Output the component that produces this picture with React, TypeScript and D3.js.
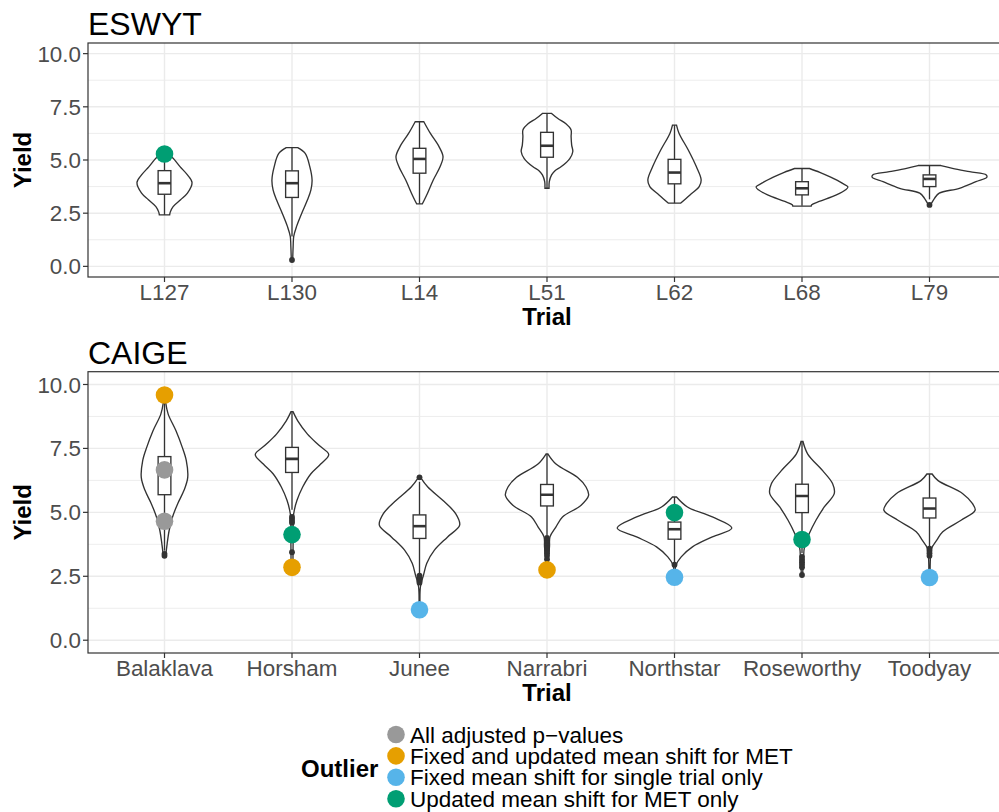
import React from "react";
import * as d3 from "d3";

// ---------- DATA ----------
const eswytTrials = ["L127", "L130", "L14", "L51", "L62", "L68", "L79"];
const caigeTrials = ["Balaklava", "Horsham", "Junee", "Narrabri", "Northstar", "Roseworthy", "Toodyay"];

const yTicks = [0, 2.5, 5, 7.5, 10];
const yMinorTicks = [1.25, 3.75, 6.25, 8.75];

// box statistics
const eswytQ1 = [3.39, 3.24, 4.38, 5.13, 3.88, 3.36, 3.75];
const eswytMedian = [3.91, 3.91, 5.05, 5.67, 4.41, 3.67, 4.11];
const eswytQ3 = [4.5, 4.49, 5.55, 6.3, 5.03, 3.98, 4.3];
const eswytWhiskerLow = [2.42, 1.4, 2.94, 3.67, 2.97, 2.85, 3.15];
const eswytWhiskerHigh = [5.28, 5.58, 6.8, 7.19, 6.64, 4.6, 4.74];

const caigeQ1 = [5.69, 6.56, 3.98, 5.25, 3.95, 4.99, 4.78];
const caigeMedian = [6.6, 7.09, 4.46, 5.69, 4.34, 5.64, 5.15];
const caigeQ3 = [7.18, 7.54, 4.9, 6.09, 4.62, 6.1, 5.56];
const caigeWhiskerLow = [3.5, 5.1, 2.6, 4.1, 3.0, 3.4, 3.65];
const caigeWhiskerHigh = [9.3, 8.94, 6.2, 7.28, 5.6, 7.77, 6.5];

// boxplot outliers (black dots)
const eswytBoxOutliers = [[], [0.3], [], [], [], [], [2.89]];
const caigeBoxOutliers = [
  [3.3, 3.38, 9.59],
  [4.82, 4.74, 4.66, 4.59, 4.13, 3.44, 2.85],
  [6.37, 2.52, 2.42, 2.32, 2.25, 1.19],
  [4.0, 3.9, 3.8, 3.7, 3.6, 3.5, 3.4, 3.3, 3.17, 2.75],
  [2.95, 2.46],
  [3.26, 3.15, 3.05, 2.95, 2.85, 2.55],
  [3.58, 3.5, 3.4, 3.3, 2.45],
];

// violin density profiles: [yield, relative density (1 = widest in panel)]
const eswytDensity = [
  [[2.42, 0.09], [2.55, 0.1], [2.81, 0.15], [3.13, 0.28], [3.44, 0.4], [3.94, 0.48], [4.3, 0.4], [4.69, 0.27], [5.08, 0.15], [5.28, 0.06]],
  [[0.3, 0.012], [0.94, 0.02], [1.41, 0.03], [1.88, 0.08], [2.5, 0.17], [3.13, 0.27], [3.6, 0.33], [4.06, 0.35], [4.69, 0.31], [5.31, 0.23], [5.58, 0.1]],
  [[2.94, 0.05], [3.44, 0.14], [4.06, 0.24], [4.69, 0.36], [5.16, 0.41], [5.63, 0.34], [6.25, 0.19], [6.8, 0.075]],
  [[3.67, 0.035], [3.98, 0.04], [4.3, 0.08], [4.5, 0.14], [4.69, 0.25], [5.08, 0.4], [5.4, 0.45], [5.7, 0.43], [6.1, 0.42], [6.41, 0.42], [6.7, 0.33], [6.95, 0.19], [7.19, 0.08]],
  [[2.97, 0.105], [3.36, 0.27], [3.75, 0.43], [4.06, 0.465], [4.69, 0.38], [5.47, 0.24], [6.25, 0.08], [6.64, 0.035]],
  [[2.83, 0.16], [2.9, 0.17], [3.05, 0.3], [3.36, 0.6], [3.6, 0.76], [3.73, 0.8], [3.91, 0.7], [4.19, 0.5], [4.42, 0.31], [4.6, 0.13]],
  [[2.89, 0.02], [2.97, 0.035], [3.21, 0.09], [3.44, 0.17], [3.67, 0.52], [3.98, 0.81], [4.19, 1.0], [4.3, 0.99], [4.45, 0.7], [4.61, 0.4], [4.74, 0.2]],
];
const caigeDensity = [
  [[3.26, 0.02], [3.4, 0.026], [3.79, 0.047], [4.3, 0.082], [4.82, 0.14], [5.34, 0.23], [5.86, 0.34], [6.37, 0.405], [7.02, 0.38], [7.54, 0.31], [8.19, 0.2], [8.84, 0.064], [9.3, 0.02], [9.59, 0.01]],
  [[2.85, 0.015], [3.44, 0.018], [4.2, 0.02], [4.82, 0.023], [5.08, 0.04], [5.47, 0.087], [5.99, 0.186], [6.51, 0.33], [6.89, 0.5], [7.26, 0.64], [7.61, 0.475], [8.06, 0.27], [8.58, 0.1], [8.94, 0.017]],
  [[1.19, 0.01], [2.1, 0.017], [2.55, 0.07], [3.01, 0.127], [3.52, 0.26], [4.04, 0.49], [4.5, 0.7], [4.95, 0.63], [5.47, 0.405], [5.99, 0.145], [6.37, 0.017]],
  [[2.75, 0.01], [3.14, 0.017], [3.65, 0.043], [4.04, 0.052], [4.43, 0.157], [4.82, 0.27], [5.27, 0.59], [5.66, 0.725], [5.99, 0.68], [6.37, 0.53], [6.89, 0.157], [7.28, 0.017]],
  [[2.46, 0.01], [2.94, 0.026], [3.26, 0.117], [3.65, 0.313], [4.04, 0.66], [4.39, 1.0], [4.82, 0.66], [5.21, 0.226], [5.6, 0.035]],
  [[2.55, 0.01], [3.14, 0.026], [3.65, 0.043], [4.17, 0.127], [4.69, 0.243], [5.21, 0.388], [5.73, 0.562], [6.12, 0.534], [6.63, 0.36], [7.28, 0.1], [7.77, 0.017]],
  [[2.45, 0.01], [3.26, 0.017], [3.59, 0.035], [3.91, 0.127], [4.24, 0.231], [4.69, 0.55], [5.08, 0.795], [5.34, 0.75], [5.73, 0.58], [6.25, 0.145], [6.5, 0.045]],
];

// flagged outliers
const outlierTypes = [
  "All adjusted p\u2212values",
  "Fixed and updated mean shift for MET",
  "Fixed mean shift for single trial only",
  "Updated mean shift for MET only",
];
const outlierColors = ["#999999", "#E69F00", "#56B4E9", "#009E73"];

const eswytFlagTrial = ["L127"];
const eswytFlagYield = [5.28];
const eswytFlagType = [3];

const caigeFlagTrial = ["Balaklava", "Balaklava", "Balaklava", "Horsham", "Horsham", "Junee", "Narrabri", "Northstar", "Northstar", "Roseworthy", "Toodyay"];
const caigeFlagYield = [9.59, 6.66, 4.65, 4.13, 2.85, 1.19, 2.75, 4.99, 2.46, 3.94, 2.45];
const caigeFlagType = [1, 0, 0, 3, 1, 2, 1, 3, 2, 3, 2];

// ---------- LAYOUT ----------
const W = 999;
const H = 812;
const FONT = "'Liberation Sans', Arial, Helvetica, sans-serif";
const panelLeft = 88;
const panelRight = 1006;
const INK = "#333333";

type PanelProps = {
  title: string;
  trials: string[];
  top: number;
  bottom: number;
  q1: number[];
  med: number[];
  q3: number[];
  wlo: number[];
  whi: number[];
  boxOut: number[][];
  density: number[][][];
  flagTrial: string[];
  flagYield: number[];
  flagType: number[];
};

function Panel(p: PanelProps) {
  const x = d3.scalePoint<string>().domain(p.trials).range([panelLeft, panelRight]).padding(0.6);
  const y = d3.scaleLinear().domain([-0.5, 10.5]).range([p.bottom, p.top]);
  const step = x.step();
  const halfMax = 0.45 * step;
  const boxHalf = 0.05 * step;
  const clipId = "clip-" + p.title;

  return (
    <g>
      <defs>
        <clipPath id={clipId}>
          <rect x={panelLeft} y={p.top} width={panelRight - panelLeft} height={p.bottom - p.top} />
        </clipPath>
      </defs>
      <text x={panelLeft} y={p.top - 8} fontFamily={FONT} fontSize={32} fill="#000">
        {p.title}
      </text>
      <g clipPath={`url(#${clipId})`}>
        <rect x={panelLeft} y={p.top} width={panelRight - panelLeft} height={p.bottom - p.top} fill="#fff" />
        {yMinorTicks.map((t) => (
          <line key={"mi" + t} x1={panelLeft} x2={panelRight} y1={y(t)} y2={y(t)} stroke="#EBEBEB" strokeWidth={0.9} />
        ))}
        {yTicks.map((t) => (
          <line key={"ma" + t} x1={panelLeft} x2={panelRight} y1={y(t)} y2={y(t)} stroke="#EBEBEB" strokeWidth={1.4} />
        ))}
        {p.trials.map((t) => (
          <line key={"v" + t} x1={x(t)} x2={x(t)} y1={p.top} y2={p.bottom} stroke="#EBEBEB" strokeWidth={1.4} />
        ))}
        {p.trials.map((t, i) => {
          const cx = x(t) as number;
          const area = d3
            .area<number[]>()
            .y((d) => y(d[0]))
            .x0((d) => cx - d[1] * halfMax)
            .x1((d) => cx + d[1] * halfMax)
            .curve(d3.curveCatmullRom.alpha(0.5));
          return (
            <path key={"vio" + t} d={area(p.density[i]) || ""} fill="#fff" stroke={INK} strokeWidth={1.35} />
          );
        })}
        {p.trials.map((t, i) => {
          const cx = x(t) as number;
          return (
            <g key={"box" + t}>
              <line x1={cx} x2={cx} y1={y(p.q3[i])} y2={y(p.whi[i])} stroke={INK} strokeWidth={1.35} />
              <line x1={cx} x2={cx} y1={y(p.q1[i])} y2={y(p.wlo[i])} stroke={INK} strokeWidth={1.35} />
              <rect
                x={cx - boxHalf}
                y={y(p.q3[i])}
                width={2 * boxHalf}
                height={y(p.q1[i]) - y(p.q3[i])}
                fill="#fff"
                stroke={INK}
                strokeWidth={1.35}
              />
              <line x1={cx - boxHalf} x2={cx + boxHalf} y1={y(p.med[i])} y2={y(p.med[i])} stroke={INK} strokeWidth={2.6} />
              {p.boxOut[i].map((v, j) => (
                <circle key={j} cx={cx} cy={y(v)} r={2.9} fill={INK} />
              ))}
            </g>
          );
        })}
        {p.flagTrial.map((t, i) => (
          <circle key={"f" + i} cx={x(t) as number} cy={y(p.flagYield[i])} r={8.8} fill={outlierColors[p.flagType[i]]} />
        ))}
      </g>
      <rect
        x={panelLeft}
        y={p.top}
        width={panelRight - panelLeft}
        height={p.bottom - p.top}
        fill="none"
        stroke={INK}
        strokeWidth={1.2}
      />
      {yTicks.map((t) => (
        <g key={"yt" + t}>
          <line x1={panelLeft - 5} x2={panelLeft} y1={y(t)} y2={y(t)} stroke={INK} strokeWidth={1.2} />
          <text x={panelLeft - 7} y={y(t)} dy="0.36em" textAnchor="end" fontFamily={FONT} fontSize={22.4} fill="#4D4D4D">
            {d3.format(".1f")(t)}
          </text>
        </g>
      ))}
      {p.trials.map((t) => (
        <g key={"xt" + t}>
          <line x1={x(t)} x2={x(t)} y1={p.bottom} y2={p.bottom + 5} stroke={INK} strokeWidth={1.2} />
          <text x={x(t)} y={p.bottom + 23} textAnchor="middle" fontFamily={FONT} fontSize={22.4} fill="#4D4D4D">
            {t}
          </text>
        </g>
      ))}
      <text
        x={(panelLeft + panelRight) / 2}
        y={p.bottom + 48}
        textAnchor="middle"
        fontFamily={FONT}
        fontSize={24}
        fontWeight="bold"
        fill="#000"
      >
        Trial
      </text>
      <text
        transform={`translate(31,${(p.top + p.bottom) / 2}) rotate(-90)`}
        textAnchor="middle"
        fontFamily={FONT}
        fontSize={24}
        fontWeight="bold"
        fill="#000"
      >
        Yield
      </text>
    </g>
  );
}

export default function App() {
  const legendY0 = 734.5;
  const legendStep = 21.4;
  return (
    <svg width={W} height={H} style={{ position: "absolute", left: 0, top: 0, background: "#fff" }}>
      <rect x={0} y={0} width={W} height={H} fill="#fff" />
      <Panel
        title="ESWYT"
        trials={eswytTrials}
        top={43}
        bottom={277}
        q1={eswytQ1}
        med={eswytMedian}
        q3={eswytQ3}
        wlo={eswytWhiskerLow}
        whi={eswytWhiskerHigh}
        boxOut={eswytBoxOutliers}
        density={eswytDensity}
        flagTrial={eswytFlagTrial}
        flagYield={eswytFlagYield}
        flagType={eswytFlagType}
      />
      <Panel
        title="CAIGE"
        trials={caigeTrials}
        top={371.7}
        bottom={653}
        q1={caigeQ1}
        med={caigeMedian}
        q3={caigeQ3}
        wlo={caigeWhiskerLow}
        whi={caigeWhiskerHigh}
        boxOut={caigeBoxOutliers}
        density={caigeDensity}
        flagTrial={caigeFlagTrial}
        flagYield={caigeFlagYield}
        flagType={caigeFlagType}
      />
      <text x={301} y={776.5} fontFamily={FONT} fontSize={24} fontWeight="bold" fill="#000">
        Outlier
      </text>
      {outlierTypes.map((lab, i) => (
        <g key={lab}>
          <circle cx={396} cy={legendY0 + i * legendStep} r={8.8} fill={outlierColors[i]} />
          <text x={410} y={legendY0 + i * legendStep + 8} fontFamily={FONT} fontSize={22.5} fill="#000">
            {lab}
          </text>
        </g>
      ))}
    </svg>
  );
}
